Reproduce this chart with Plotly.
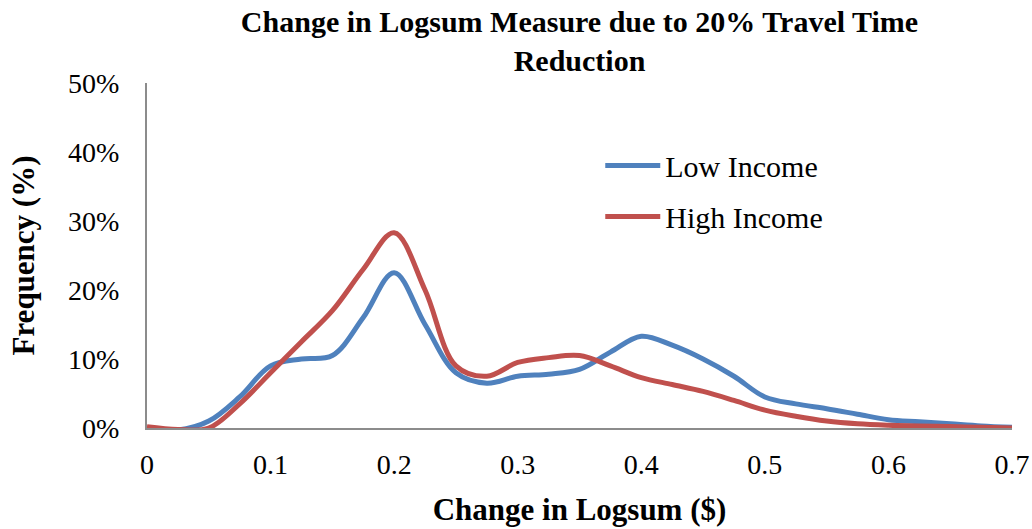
import plotly.graph_objects as go

# Change in logsum ($), sampled every 0.025
x_vals = [0, 0.025, 0.05, 0.075, 0.1, 0.125, 0.15, 0.175, 0.2, 0.225, 0.25, 0.275,
          0.3, 0.325, 0.35, 0.375, 0.4, 0.425, 0.45, 0.475, 0.5, 0.525, 0.55, 0.575,
          0.6, 0.625, 0.65, 0.675, 0.7]

# Frequency (%)
low_income = [0.0, -0.3, 1.0, 4.5, 9.0, 10.0, 10.5, 16.0, 22.5, 15.0, 8.0, 6.5,
              7.5, 7.8, 8.5, 11.0, 13.3, 12.0, 10.0, 7.5, 4.5, 3.5, 2.8, 2.0,
              1.2, 0.9, 0.6, 0.3, 0.1]
high_income = [0.2, -0.2, 0.0, 3.5, 8.0, 12.5, 17.0, 23.0, 28.3, 20.0, 9.0, 7.5,
               9.5, 10.2, 10.5, 9.0, 7.3, 6.3, 5.3, 4.0, 2.6, 1.7, 1.0, 0.6,
               0.4, 0.3, 0.2, 0.1, 0.0]

y_ticks = [0, 10, 20, 30, 40, 50]
x_ticks = [0, 0.1, 0.2, 0.3, 0.4, 0.5, 0.6, 0.7]

serif = "Liberation Serif"

fig = go.Figure()
fig.add_trace(go.Scatter(x=x_vals, y=low_income, mode="lines", name="Low Income",
                         line=dict(color="#4F81BD", width=5, shape="spline", smoothing=1.0),
                         legendgroup="low"))
fig.add_trace(go.Scatter(x=x_vals, y=high_income, mode="lines", name="High Income",
                         line=dict(color="#C0504D", width=5, shape="spline", smoothing=1.0),
                         legendgroup="high"))

fig.update_layout(
    width=1032, height=529,
    paper_bgcolor="white", plot_bgcolor="white",
    margin=dict(l=147, r=20, t=83, b=101),
    font=dict(family=serif, size=28, color="black"),
    title=dict(text="<b>Change in Logsum Measure due to 20% Travel Time<br>Reduction</b>",
               x=0.5, xref="paper", y=0.94, yref="container", yanchor="top",
               font=dict(family=serif, size=30, color="black")),
    showlegend=True,
    legend=dict(x=0.524, y=0.836, xanchor="left", yanchor="top",
                bgcolor="rgba(0,0,0,0)", itemwidth=55, tracegroupgap=9,
                traceorder="grouped", font=dict(family=serif, size=30)),
)

fig.update_xaxes(range=[0, 0.7], tickvals=x_ticks,
                 ticktext=[f"{v:g}" for v in x_ticks],
                 showgrid=False, zeroline=False, showline=True, linecolor="#8C8C8C",
                 linewidth=2, ticks="", ticklabelstandoff=10, automargin=False,
                 title=dict(text="<b>Change in Logsum ($)</b>", standoff=20,
                            font=dict(family=serif, size=31)))
fig.update_yaxes(range=[0, 50], tickvals=y_ticks,
                 ticktext=[f"{v}%" for v in y_ticks],
                 showgrid=False, zeroline=False, showline=True, linecolor="#8C8C8C",
                 linewidth=2, ticks="", ticklabelstandoff=20, automargin=False,
                 title=dict(text="<b>Frequency (%)</b>", standoff=24,
                            font=dict(family=serif, size=31)))

# drop the page's default body margin so the figure fills the window exactly
fig.write_html("out.html", config={"displayModeBar": False},
               post_script="document.body.style.margin='0';document.body.style.overflow='hidden';")
